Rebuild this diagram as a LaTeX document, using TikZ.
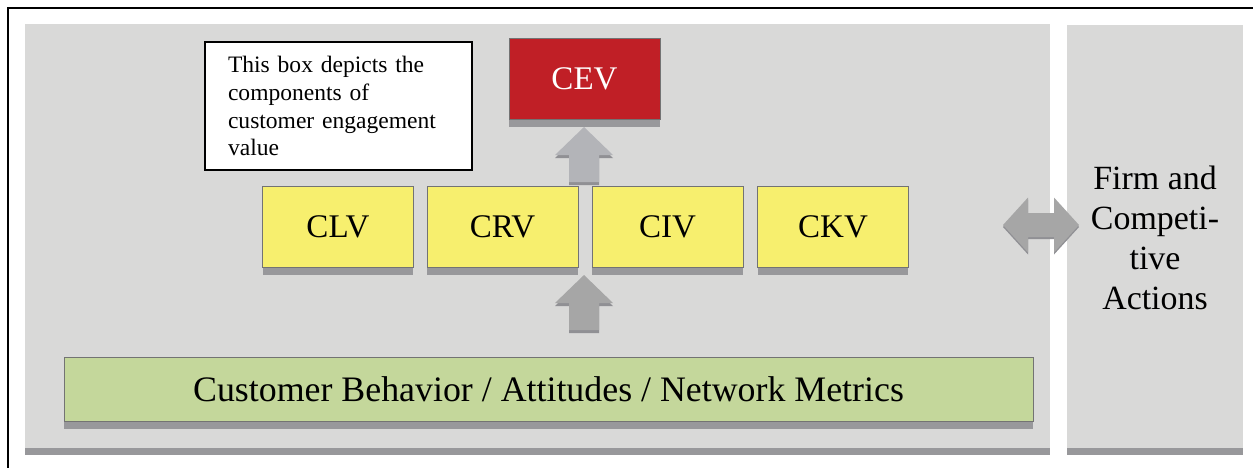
\documentclass[tikz,border=0pt]{standalone}
\usepackage{fontspec}
\setmainfont{Liberation Serif}
\usetikzlibrary{positioning,shadows}

\definecolor{panelgray}{HTML}{D9D9D8}
\definecolor{stripgray}{HTML}{98989B}
\definecolor{cevred}{HTML}{C01F26}
\definecolor{valyellow}{HTML}{F7EF6E}
\definecolor{metricgreen}{HTML}{C4D79B}
\definecolor{arrowlight}{HTML}{B3B4B8}
\definecolor{arrowdark}{HTML}{A6A6A6}
\definecolor{arrowshade}{HTML}{909094}

\tikzset{
    boxshadow/.style={drop shadow={shadow xshift=0cm, shadow yshift=-0.16cm, fill=stripgray, opacity=1}},
    valbox/.style={draw=black!55, line width=0.3pt, fill=valyellow, minimum width=3.02cm, minimum height=1.62cm, font=\fontsize{18.8}{22}\selectfont, boxshadow},
    cevbox/.style={valbox, fill=cevred, text=white},
    metricbox/.style={valbox, fill=metricgreen, minimum width=19.38cm, minimum height=1.28cm, font=\fontsize{20.4}{24}\selectfont},
    notebox/.style={draw, line width=0.8pt, fill=white, align=left, text width=4.42cm, inner xsep=0.46cm, minimum height=2.56cm, font=\fontsize{13.4}{15.9}\selectfont},
}

\begin{document}
\begin{tikzpicture}[x=0.02cm, y=-0.02cm]
    \useasboundingbox (0,0) rectangle (1253,468);

    % panels
    \fill[stripgray] (25,24) rectangle (1050,455);
    \fill[panelgray] (25,24) rectangle (1050,448);
    \fill[stripgray] (1067,25) rectangle (1243,455);
    \fill[panelgray] (1067,25) rectangle (1243,448);
    \draw[line width=1.4pt] (1253,8) -- (8,8) -- (8,468);

    \node[notebox] (note) at (338.5,106) {This box depicts the\\components of\\customer engagement\\value};
    \node[cevbox] (cev) at (584.5,78.5) {CEV};

    \node[valbox] (clv) at (338,226.5) {CLV};
    \node[valbox, right=0.26cm of clv] (crv) {CRV};
    \node[valbox, right=0.27cm of crv] (civ) {CIV};
    \node[valbox, right=0.28cm of civ] (ckv) {CKV};

    \node[metricbox] (metrics) at (548.5,389) {Customer Behavior / Attitudes / Network Metrics};

    \node[font=\fontsize{19.3}{22.8}\selectfont, align=center] (firm) at (1155,238) {Firm and\\Competi-\\tive\\Actions};

    % block arrows
    \fill[arrowshade] (584,130) --++(29,28) --++(-14,0) --++(0,27) --++(-30,0) --++(0,-27) --++(-14,0) -- cycle;
    \fill[arrowlight] (584,127) --++(29,28) --++(-14,0) --++(0,27) --++(-30,0) --++(0,-27) --++(-14,0) -- cycle;

    \fill[arrowshade] (584,278) --++(29,28) --++(-14,0) --++(0,27) --++(-30,0) --++(0,-27) --++(-14,0) -- cycle;
    \fill[arrowdark] (584,275) --++(29,28) --++(-14,0) --++(0,27) --++(-30,0) --++(0,-27) --++(-14,0) -- cycle;

    \fill[arrowshade] (1003,227) --++(25,-27.5) --++(0,15.5) --++(26,0) --++(0,-15.5) --++(25,27.5) --++(-25,27.5) --++(0,-15.5) --++(-26,0) --++(0,15.5) -- cycle;
    \fill[arrowdark] (1003,225) --++(25,-27.5) --++(0,15.5) --++(26,0) --++(0,-15.5) --++(25,27.5) --++(-25,27.5) --++(0,-15.5) --++(-26,0) --++(0,15.5) -- cycle;

\end{tikzpicture}
\end{document}
